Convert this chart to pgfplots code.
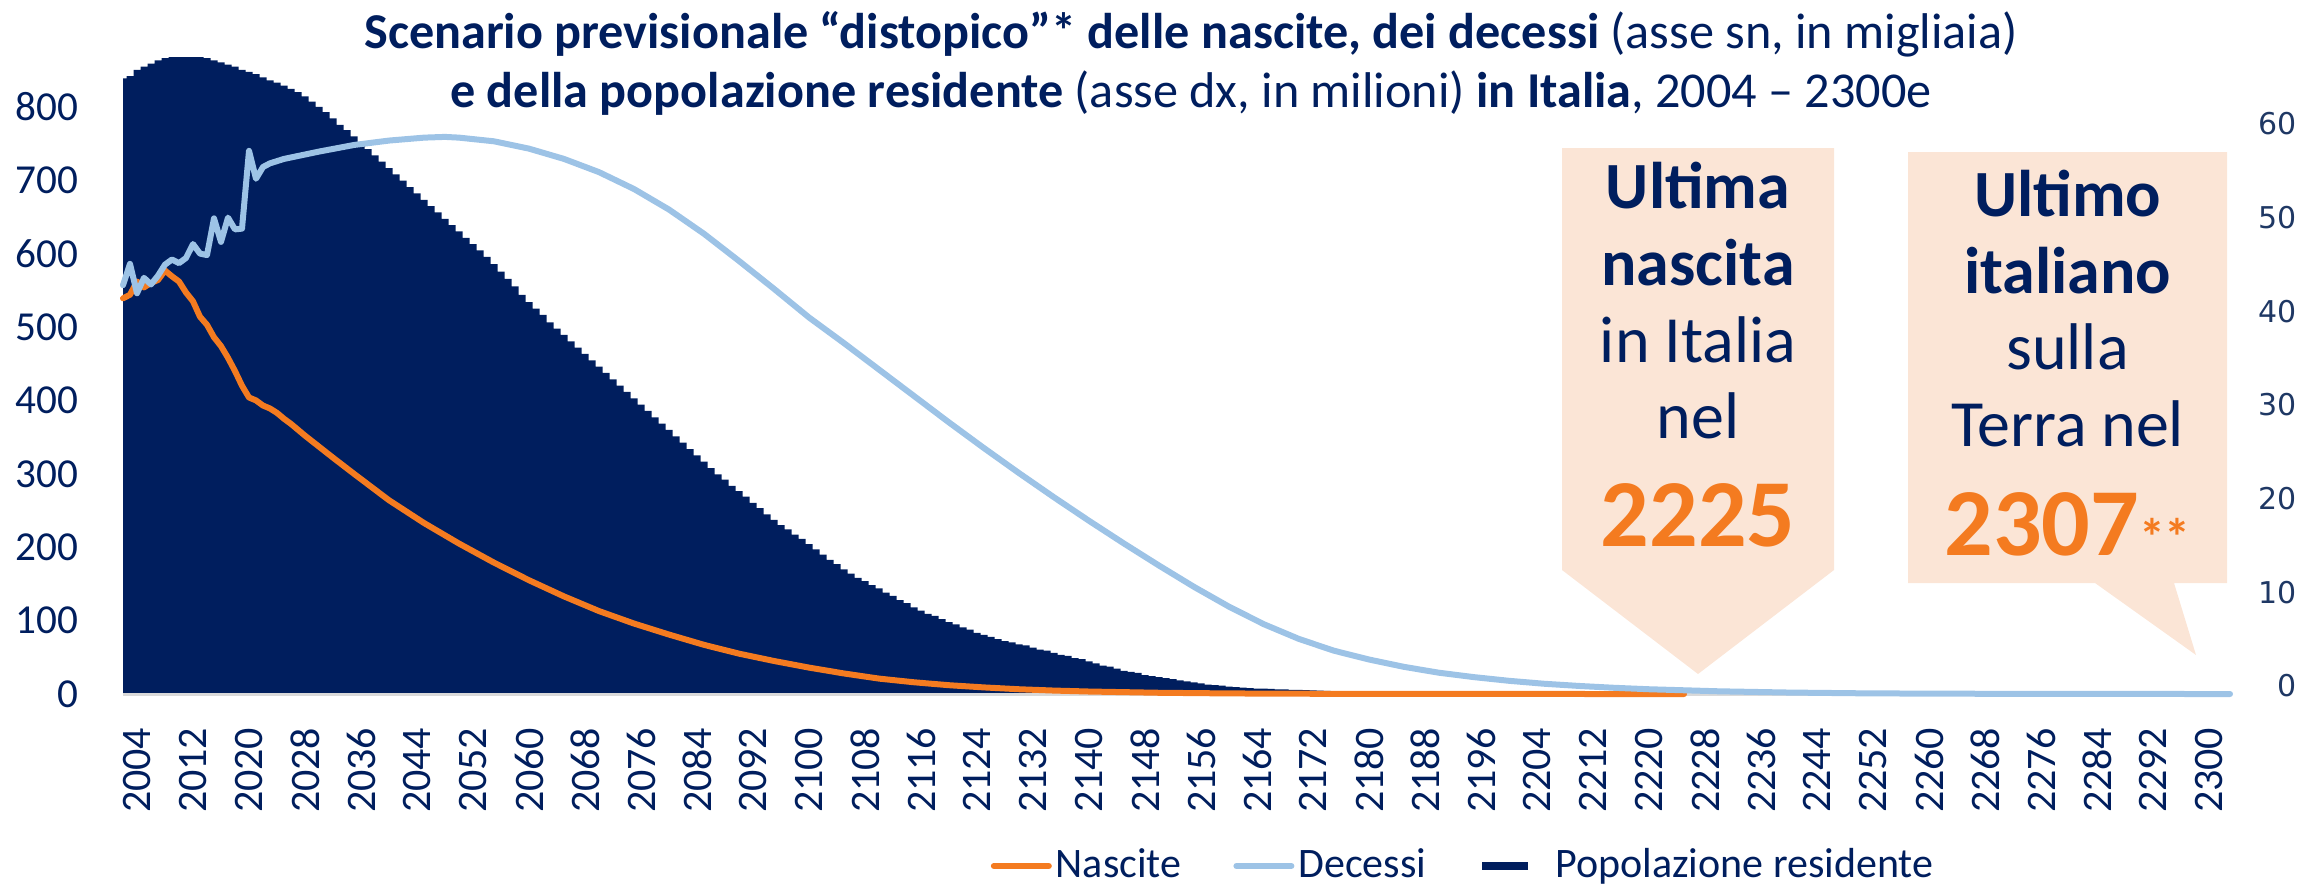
\documentclass[border=0pt]{standalone}
\usepackage{fontspec}
\setmainfont{Carlito}
\newfontfamily\dejavu{DejaVu Sans}
\usepackage{pgfplots}
\pgfplotsset{compat=1.18}
\definecolor{navy}{HTML}{001E5E}
\definecolor{orangec}{HTML}{F47B20}
\definecolor{lblue}{HTML}{9DC3E6}
\definecolor{peach}{HTML}{FBE5D6}
\definecolor{axisgray}{HTML}{D9D9D9}
\definecolor{rightlab}{HTML}{1F3864}
\begin{document}
\begin{tikzpicture}
\useasboundingbox (0,0) rectangle (575.5pt,220.75pt);
\pgfplotsset{base/.style={at={(30.75pt,47.25pt)}, anchor=south west, scale only axis,
  width=526.75pt, height=161pt, xmin=2002, xmax=2303}}
% population (hidden scale, millions)
\begin{axis}[base, hide axis, ymin=0, ymax=60.98]
\addplot[fill=navy, draw=none, const plot mark mid] coordinates {
(2002,58.3)(2003,58.5)(2004,59.1)(2005,59.4)(2006,59.7)(2007,60.0)(2008,60.2)(2009,60.3)(2010,60.3)(2011,60.3)
(2012,60.3)(2013,60.3)(2014,60.2)(2015,60.0)(2016,59.8)(2017,59.6)(2018,59.4)(2019,59.1)(2020,58.9)(2021,58.7)
(2022,58.4)(2023,58.1)(2024,57.9)(2025,57.6)(2026,57.3)(2027,57.0)(2028,56.6)(2029,56.1)(2030,55.6)(2031,55.1)
(2032,54.5)(2033,53.9)(2034,53.4)(2035,52.8)(2036,52.2)(2037,51.6)(2038,51.0)(2039,50.4)(2040,49.8)(2041,49.2)
(2042,48.6)(2043,48.0)(2044,47.4)(2045,46.8)(2046,46.2)(2047,45.6)(2048,45.0)(2049,44.4)(2050,43.8)(2051,43.2)
(2052,42.6)(2053,42.0)(2054,41.4)(2055,40.7)(2056,40.0)(2057,39.3)(2058,38.6)(2059,37.8)(2060,37.1)(2061,36.5)
(2062,35.9)(2063,35.2)(2064,34.6)(2065,34.0)(2066,33.4)(2067,32.8)(2068,32.2)(2069,31.6)(2070,31.0)(2071,30.4)
(2072,29.8)(2073,29.2)(2074,28.6)(2075,28.0)(2076,27.4)(2077,26.8)(2078,26.2)(2079,25.6)(2080,25.0)(2081,24.4)
(2082,23.8)(2083,23.2)(2084,22.6)(2085,22.0)(2086,21.4)(2087,20.8)(2088,20.3)(2089,19.7)(2090,19.2)(2091,18.7)
(2092,18.1)(2093,17.6)(2094,17.0)(2095,16.5)(2096,16.0)(2097,15.6)(2098,15.1)(2099,14.7)(2100,14.2)(2101,13.7)
(2102,13.2)(2103,12.7)(2104,12.3)(2105,11.8)(2106,11.4)(2107,11.0)(2108,10.7)(2109,10.3)(2110,10.0)(2111,9.6)
(2112,9.3)(2113,8.9)(2114,8.6)(2115,8.2)(2116,7.9)(2117,7.6)(2118,7.4)(2119,7.1)(2120,6.8)(2121,6.6)
(2122,6.3)(2123,6.1)(2124,5.8)(2125,5.6)(2126,5.4)(2127,5.2)(2128,5.0)(2129,4.9)(2130,4.7)(2131,4.6)
(2132,4.4)(2133,4.2)(2134,4.1)(2135,3.9)(2136,3.7)(2137,3.6)(2138,3.4)(2139,3.3)(2140,3.1)(2141,2.9)
(2142,2.7)(2143,2.6)(2144,2.4)(2145,2.2)(2146,2.1)(2147,2.0)(2148,1.8)(2149,1.7)(2150,1.6)(2151,1.5)
(2152,1.4)(2153,1.3)(2154,1.2)(2155,1.1)(2156,1.0)(2157,0.9)(2158,0.85)(2159,0.8)(2160,0.7)(2161,0.65)
(2162,0.6)(2163,0.55)(2164,0.52)(2165,0.5)(2166,0.48)(2167,0.45)(2168,0.43)(2169,0.4)(2170,0.4)(2171,0.38)
(2172,0.35)(2173,0.33)(2174,0.3)(2175,0.12)(2260,0.12)
} \closedcycle;
\end{axis}
% right axis labels
\begin{axis}[base, ymin=-0.854, ymax=67.9, axis x line=none, axis y line*=right,
  y axis line style={draw=none}, ytick={0,10,...,60}, major tick length=0pt,
  /pgf/number format/assume math mode=true,
  yticklabel style={font=\dejavu\fontsize{7.5}{9}\selectfont, text=rightlab, anchor=east, inner sep=0pt, xshift=16.75pt}]
\addplot[draw=none] coordinates {(2002,0)};
\end{axis}
% main axis: births and deaths (thousands)
\begin{axis}[base, ymin=0, ymax=877.4, clip=false,
  axis x line*=bottom, axis y line*=left,
  y axis line style={draw=none}, x axis line style={draw=axisgray, line width=0.75pt, -},
  major tick length=0pt,
  xtick={2004,2012,...,2300}, ytick={0,100,...,800},
  /pgf/number format/assume math mode=true, /pgf/number format/1000 sep={},
  xticklabel style={font=\fontsize{10.5}{12}\selectfont, text=navy, yshift=-8.25pt, rotate=90, anchor=east, inner sep=0pt},
  yticklabel style={font=\fontsize{10.3}{12}\selectfont, text=navy, anchor=east, inner sep=0pt, xshift=-11pt},
  legend columns=3, legend cell align=left,
  legend image code/.code={\draw[#1] (0pt,0pt) -- (13.75pt,0pt);},
  legend style={at={(0.4115,-0.267)}, anchor=west, draw=none, fill=none,
    font=\fontsize{10.5}{12}\selectfont, text=navy, inner sep=0pt,
    nodes={inner sep=1pt},
    /tikz/every even column/.append style={column sep=12pt}}]
\addplot[orangec, line width=1.5pt, line join=round, line cap=round] coordinates {
(2002,539)(2003,544)(2004,562)(2005,554)(2006,560)(2007,564)(2008,577)(2009,569)(2010,562)(2011,547)
(2012,535)(2013,514)(2014,503)(2015,486)(2016,474)(2017,458)(2018,440)(2019,420)(2020,404)(2021,400)
(2022,393)(2023,389)(2024,383)(2025,375)(2026,368)(2028,352)(2030,337)(2032,322)(2035,300)(2040,264)
(2045,233)(2050,205)(2055,179)(2060,155)(2065,133)(2070,113)(2075,96)(2080,81)(2085,67)(2090,55)
(2095,45)(2100,36)(2105,28)(2110,21)(2115,16)(2120,12)(2125,9)(2130,6.5)(2135,4.7)(2140,3.4)
(2150,1.7)(2160,0.8)(2170,0.4)(2180,0.2)(2200,0.05)(2225,0)
};
\addlegendentry{Nascite}
\addplot[lblue, line width=1.5pt, line join=round, line cap=round] coordinates {
(2002,557)(2003,586)(2004,546)(2005,567)(2006,558)(2007,570)(2008,585)(2009,592)(2010,587)(2011,594)
(2012,613)(2013,600)(2014,598)(2015,648)(2016,616)(2017,649)(2018,633)(2019,634)(2020,740)(2021,702)
(2022,718)(2023,723)(2025,729)(2030,739)(2035,748)(2040,754)(2045,758)(2048,759)(2050,758)(2055,753)
(2060,743)(2065,729)(2070,711)(2075,688)(2080,660)(2085,627)(2090,590)(2095,552)(2100,513)(2105,478)
(2110,442)(2115,406)(2120,370)(2125,335)(2130,301)(2135,268)(2140,236)(2145,205)(2150,175)(2155,146)
(2160,119)(2165,95)(2170,75)(2175,59)(2180,47)(2185,37)(2190,29)(2195,23)(2200,18)(2205,14)
(2210,11)(2215,8.5)(2220,6.5)(2230,3.7)(2240,2)(2250,1)(2260,0.5)(2280,0.1)(2303,0)
};
\addlegendentry{Decessi}
\addlegendimage{legend image code/.code={\path[draw=none,fill=none] (0pt,-2pt) rectangle (17.25pt,2pt); \draw[navy, line width=2pt] (0pt,0pt) -- (11.5pt,0pt);}}
\addlegendentry{Popolazione residente}
\end{axis}
% title
\node[anchor=base, text=navy, font=\fontsize{12.55}{14}\selectfont] at (297.75pt,208.75pt)
  {\textbf{Scenario previsionale “distopico”* delle nascite, dei decessi} (asse sn, in migliaia)};
\node[anchor=base, text=navy, font=\fontsize{12.55}{14}\selectfont] at (297.75pt,194pt)
  {\textbf{e della popolazione residente} (asse dx, in milioni) \textbf{in Italia}, 2004 – 2300e};
% callout 1
\fill[peach] (390.5pt,183.75pt) -- (458.5pt,183.75pt) -- (458.5pt,78.25pt) -- (424.5pt,52.25pt) -- (390.5pt,78.25pt) -- cycle;
\node[anchor=base, text=navy, font=\bfseries\fontsize{16.5}{19}\selectfont] at (424.5pt,168.6pt) {Ultima};
\node[anchor=base, text=navy, font=\bfseries\fontsize{16.5}{19}\selectfont] at (424.5pt,149.5pt) {nascita};
\node[anchor=base, text=navy, font=\fontsize{16.5}{19}\selectfont] at (424.5pt,130.25pt) {in Italia};
\node[anchor=base, text=navy, font=\fontsize{16.5}{19}\selectfont] at (424.5pt,111.25pt) {nel};
\node[anchor=base, text=orangec, font=\bfseries\fontsize{24}{28}\selectfont] at (424.5pt,84.25pt) {2225};
% callout 2
\fill[peach] (477pt,182.75pt) -- (556.75pt,182.75pt) -- (556.75pt,75pt) -- (543.5pt,75pt) -- (549pt,57pt) -- (523.75pt,75pt) -- (477pt,75pt) -- cycle;
\node[anchor=base, text=navy, font=\bfseries\fontsize{16.5}{19}\selectfont] at (516.9pt,166.75pt) {Ultimo};
\node[anchor=base, text=navy, font=\bfseries\fontsize{16.5}{19}\selectfont] at (516.9pt,147.5pt) {italiano};
\node[anchor=base, text=navy, font=\fontsize{16.5}{19}\selectfont] at (516.9pt,128.5pt) {sulla};
\node[anchor=base, text=navy, font=\fontsize{16.5}{19}\selectfont] at (516.9pt,109.25pt) {Terra nel};
\node[anchor=base, text=orangec, font=\bfseries] at (516.9pt,82pt) {{\fontsize{24}{28}\selectfont 2307}{\fontsize{13}{15}\selectfont **}};
\end{tikzpicture}
\end{document}
